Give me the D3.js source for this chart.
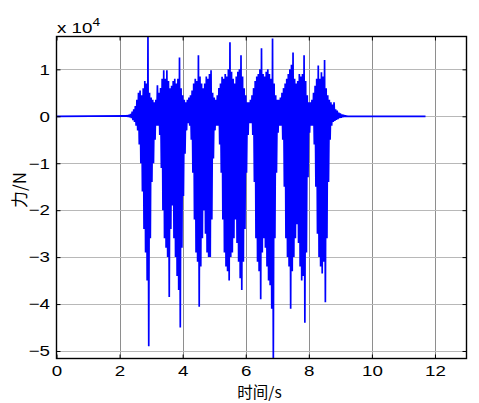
<!DOCTYPE html>
<html>
<head>
<meta charset="utf-8">
<script src="https://cdn.jsdelivr.net/npm/d3@7"></script>
<style>
  html, body { margin: 0; padding: 0; background: #fff; }
  svg { display: block; }
  text { font-family: "Liberation Sans", Arial, Helvetica, sans-serif; fill: #000; }
  .cjk { font-family: "Noto Sans CJK SC", "Noto Sans", sans-serif; }
</style>
</head>
<body>
<svg id="chart" width="479" height="403"></svg>
<script>
// Axis ticks (time in s, force in units of 10^4 N)
const timeTicks = [0, 2, 4, 6, 8, 10, 12];
const forceTicks = [-5, -4, -3, -2, -1, 0, 1];
const timeDomain = [0, 13];
const forceDomain = [-5.16, 1.70];

// Recording: quiet until the first sample, quiet again after the last one
const recordStart = 0;
const recordEnd = 11.7;
const sampleStart = 2.20;   // s
const sampleStep = 0.05;    // s between successive positive peaks

// Positive peaks of the oscillating force (x 10^4 N), one per sample step
const forcePeaks = [
  0.01, 0.02, 0.03, 0.05, 0.10, 0.15, 0.22, 0.35, 0.50, 0.55,
  0.45, 0.60, 0.75, 0.70, 1.70, 0.50, 0.40, 0.35, 0.30, 0.35,
  0.66, 0.50, 0.60, 0.80, 0.98, 0.80, 0.98, 0.75, 0.60, 0.65,
  0.75, 0.80, 0.70, 0.80, 1.25, 0.60, 0.45, 0.35, 0.30, 0.35,
  0.40, 0.45, 0.55, 0.70, 0.80, 0.75, 1.30, 0.85, 0.70, 0.60,
  0.70, 0.85, 0.80, 0.90, 0.98, 0.50, 0.40, 0.35, 0.45, 0.60,
  0.70, 0.84, 0.80, 0.90, 0.85, 1.00, 1.58, 0.95, 0.80, 0.70,
  0.85, 0.95, 1.00, 1.30, 0.85, 0.60, 0.45, 0.30, 0.30, 0.35,
  0.45, 0.60, 0.75, 0.85, 0.90, 1.00, 1.45, 0.90, 0.85, 0.95,
  1.00, 0.90, 0.80, 1.66, 0.70, 0.45, 0.35, 0.35, 0.40, 0.50,
  0.60, 0.70, 0.80, 0.90, 1.00, 1.10, 1.36, 0.80, 0.70, 0.75,
  0.90, 0.85, 0.90, 1.30, 0.75, 0.45, 0.30, 0.30, 0.35, 0.50,
  0.65, 0.80, 1.08, 0.80, 0.94, 0.85, 1.20, 0.60, 0.45, 0.35,
  0.30, 0.25, 0.30, 0.15, 0.12, 0.08, 0.06, 0.04, 0.03, 0.02,
  0.01
];

// Negative troughs (x 10^4 N), each half a step after its peak
const forceTroughs = [
  0.00, -0.01, -0.02, -0.04, -0.08, -0.12, -0.20, -0.30, -0.60, -1.00,
  -1.60, -2.40, -2.90, -3.50, -4.90, -2.60, -1.40, -1.00, -0.50, -0.20,
  -0.20, -0.40, -1.10, -2.00, -2.60, -2.80, -3.00, -3.85, -2.40, -1.90,
  -2.60, -3.00, -3.40, -3.70, -4.50, -2.80, -1.70, -0.80, -0.30, -0.15,
  -0.20, -0.50, -1.20, -2.20, -2.90, -3.10, -4.06, -3.20, -2.60, -2.00,
  -2.50, -2.90, -3.00, -3.00, -2.20, -0.90, -0.30, -0.20, -0.20, -0.60,
  -1.20, -2.20, -2.90, -3.20, -3.30, -3.50, -3.00, -2.90, -2.60, -2.20,
  -2.70, -3.10, -3.45, -3.70, -3.10, -2.40, -1.20, -0.40, -0.15, -0.15,
  -0.40, -1.40, -2.60, -3.10, -3.30, -3.90, -2.90, -2.60, -2.80, -3.20,
  -3.50, -3.60, -4.10, -5.16, -2.60, -1.20, -0.35, -0.20, -0.20, -0.50,
  -1.50, -2.60, -3.00, -3.20, -4.10, -3.30, -3.00, -2.60, -2.30, -2.70,
  -3.20, -3.50, -3.40, -4.40, -2.90, -1.30, -0.35, -0.20, -0.20, -0.60,
  -1.50, -2.50, -3.00, -3.20, -3.35, -3.10, -3.96, -2.60, -1.40, -0.50,
  -0.20, -0.12, -0.10, -0.08, -0.06, -0.04, -0.03, -0.02, -0.015, -0.01,
  -0.005
];

const svg = d3.select("#chart");
const plot = { left: 56.5, right: 466.5, top: 36.5, bottom: 358.5 };

const x = d3.scaleLinear().domain(timeDomain).range([plot.left, plot.right]);
const y = d3.scaleLinear().domain(forceDomain).range([plot.bottom, plot.top]);

// Grid
const grid = svg.append("g");
grid.selectAll("line.vg")
  .data(timeTicks.filter(t => t > timeDomain[0] && t < timeDomain[1]))
  .join("line")
  .attr("x1", d => Math.round(x(d)) + 0.5).attr("x2", d => Math.round(x(d)) + 0.5)
  .attr("y1", plot.top).attr("y2", plot.bottom)
  .attr("stroke", "#8e8e8e").attr("stroke-width", 1);
grid.selectAll("line.hg")
  .data(forceTicks)
  .join("line")
  .attr("x1", plot.left).attr("x2", plot.right)
  .attr("y1", d => Math.round(y(d)) + 0.5).attr("y2", d => Math.round(y(d)) + 0.5)
  .attr("stroke", "#b8b8b8").attr("stroke-width", 1);

// Signal: zigzag peak -> trough for each sample
const points = [[recordStart, 0]];
forcePeaks.forEach((p, i) => {
  const t = sampleStart + i * sampleStep;
  points.push([t, p]);
  points.push([t + sampleStep / 2, forceTroughs[i]]);
});
points.push([sampleStart + forcePeaks.length * sampleStep, 0]);
points.push([recordEnd, 0]);

const line = d3.line().x(d => x(d[0])).y(d => y(d[1]));
svg.append("path")
  .datum(points)
  .attr("d", line)
  .attr("fill", "none")
  .attr("stroke", "#0000ff")
  .attr("stroke-width", 1.7)
  .attr("stroke-linejoin", "bevel");

// Axes (box with inward ticks on every side)
const tickLen = 4;
const labelStretch = 1.25;
const axisBottom = d3.axisBottom(x).tickValues(timeTicks).tickSize(-tickLen).tickPadding(7).tickFormat(d3.format("d"));
const axisTop = d3.axisTop(x).tickValues(timeTicks).tickSize(-tickLen).tickFormat("");
const axisLeft = d3.axisLeft(y).tickValues(forceTicks).tickSize(-tickLen).tickPadding(6).tickFormat(d3.format("d"));
const axisRight = d3.axisRight(y).tickValues(forceTicks).tickSize(-tickLen).tickFormat("");

function styleAxis(g) {
  g.select(".domain").remove();
  g.selectAll(".tick line").attr("stroke", "#000");
  g.selectAll(".tick text").style("font-size", "15px").attr("fill", "#000");
}
svg.append("g").attr("transform", `translate(0,${plot.bottom})`).call(axisBottom).call(styleAxis)
  .selectAll(".tick text").attr("transform", `scale(${labelStretch},1)`);
svg.append("g").attr("transform", `translate(0,${plot.top})`).call(axisTop).call(styleAxis);
svg.append("g").attr("transform", `translate(${plot.left},0)`).call(axisLeft).call(styleAxis)
  .selectAll(".tick text").attr("x", -6.5 / labelStretch).attr("transform", `scale(${labelStretch},1)`);
svg.append("g").attr("transform", `translate(${plot.right},0)`).call(axisRight).call(styleAxis);

svg.append("rect")
  .attr("x", plot.left).attr("y", plot.top)
  .attr("width", plot.right - plot.left).attr("height", plot.bottom - plot.top)
  .attr("fill", "none").attr("stroke", "#000").attr("stroke-width", 1.4);

// Exponent label
const expo = svg.append("text")
  .attr("transform", `translate(57,33) scale(${labelStretch},1)`)
  .style("font-size", "15px");
expo.append("tspan").text("x 10");
expo.append("tspan").attr("dy", -7).style("font-size", "11px").text("4");

// Axis titles
svg.append("text").attr("class", "cjk")
  .attr("x", (plot.left + plot.right) / 2 - 2).attr("y", 398)
  .attr("text-anchor", "middle").style("font-size", "15.5px")
  .text("时间/s");
svg.append("text").attr("class", "cjk")
  .attr("transform", "translate(26,190) rotate(-90)")
  .attr("text-anchor", "middle").style("font-size", "17px")
  .text("力/N");
</script>
</body>
</html>
